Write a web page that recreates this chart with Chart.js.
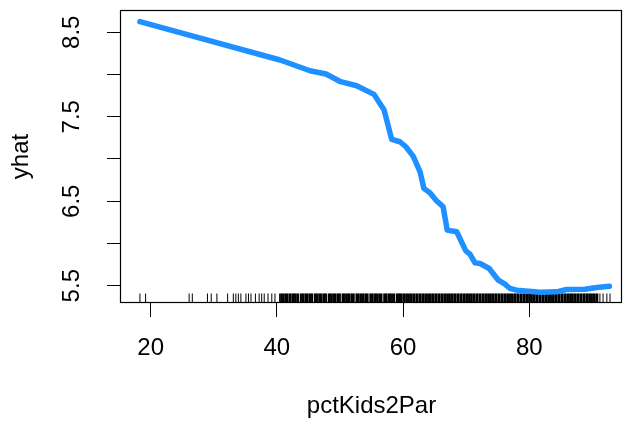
<!DOCTYPE html>
<html>
<head>
<meta charset="utf-8">
<script src="https://cdn.jsdelivr.net/npm/chart.js@4/dist/chart.umd.min.js"></script>
<style>
  html, body { margin: 0; padding: 0; background: #fff; }
  canvas { display: block; }
</style>
</head>
<body>
<canvas id="c" width="624" height="421"></canvas>
<script>
// ---- data ----
const pctKids2Par = [18.3, 40.5, 45.25, 47.8, 50.1, 52.65, 55.4, 57.0, 58.2, 59.5, 60.45, 61.6, 62.7, 63.3, 64.25, 65.3, 66.35, 67.0, 68.5, 69.95, 70.6, 71.4, 72.2, 73.65, 75.1, 76.15, 76.95, 78.0, 81.7, 84.35, 85.9, 88.8, 90.7, 92.7];
const yhat = [8.626, 8.172, 8.045, 8.006, 7.915, 7.867, 7.765, 7.579, 7.232, 7.204, 7.145, 7.034, 6.848, 6.652, 6.600, 6.505, 6.434, 6.158, 6.138, 5.912, 5.873, 5.770, 5.763, 5.704, 5.565, 5.518, 5.467, 5.447, 5.423, 5.427, 5.455, 5.458, 5.478, 5.493];

// rug of observed pctKids2Par values
const rugValues = [
  18.3, 19.2, 26.1, 26.6, 29.0, 29.6, 30.5, 32.2, 33.1, 33.5, 33.9, 34.3, 35.1, 35.5, 35.9, 36.6, 37.2, 37.6, 38.0, 38.6, 39.2, 39.7, 40.5,
  40.8, 41.0, 41.3, 41.5, 41.7, 42.0, 42.2, 42.5, 42.7, 42.9, 43.2, 43.4, 43.8, 44.0, 44.2, 44.5, 44.7, 44.9, 45.2, 45.4, 45.6, 46.0,
  46.2, 46.4, 46.7, 46.9, 47.1, 47.4, 47.6, 47.8, 48.2, 48.4, 48.6, 48.9, 49.1, 49.3, 49.6, 49.8, 50.0, 50.4, 50.6, 50.8, 51.1, 51.3,
  51.5, 51.8, 52.0, 52.2, 52.6, 52.8, 53.0, 53.3, 53.5, 53.7, 54.0, 54.2, 54.4, 54.8, 55.0, 55.2, 55.5, 55.7, 55.9, 56.2, 56.4, 56.6,
  57.0, 57.2, 57.4, 57.7, 57.9, 58.1, 58.4, 58.6, 59.0, 59.2, 59.4, 59.6, 59.8,
  60.1, 60.3, 60.6, 60.8, 61.1, 61.3, 61.6, 61.8, 62.1, 62.3, 62.6, 62.8, 63.1, 63.3, 63.6, 63.8, 64.1, 64.3, 64.6, 64.8,
  65.1, 65.3, 65.6, 65.8, 66.1, 66.3, 66.6, 66.8, 67.1, 67.3, 67.6, 67.8, 68.1, 68.3, 68.6, 68.8, 69.1, 69.3, 69.6, 69.8,
  70.1, 70.3, 70.6, 70.8, 71.1, 71.3, 71.6, 71.8, 72.1, 72.3, 72.6, 72.8, 73.1, 73.3, 73.6, 73.8, 74.1, 74.3, 74.6, 74.8,
  75.1, 75.3, 75.6, 75.8, 76.1, 76.3, 76.6, 76.8, 77.1, 77.3, 77.6, 77.8, 78.1, 78.3, 78.6, 78.8, 79.1, 79.3, 79.6, 79.8,
  80.1, 80.3, 80.6, 80.8, 81.1, 81.3, 81.6, 81.8, 82.1, 82.3, 82.6, 82.8, 83.1, 83.3, 83.6, 83.8, 84.1, 84.3, 84.6, 84.8,
  85.1, 85.3, 85.6, 85.8, 86.1, 86.3, 86.6, 86.8, 87.1, 87.3, 87.6, 87.8, 88.1, 88.3, 88.6, 88.8, 89.1, 89.3, 89.6, 89.8,
  90.1, 90.3, 90.6, 90.8, 91.2, 91.7, 92.3, 92.8
];

const xTicks = [20, 40, 60, 80];
const yTicks = [5.5, 6.0, 6.5, 7.0, 7.5, 8.0, 8.5];
const yTickLabels = ['5.5', '', '6.5', '', '7.5', '', '8.5'];
const xTitle = 'pctKids2Par';
const yTitle = 'yhat';

// ---- drawing ----
const FONT = '"Liberation Sans", Arial, Helvetica, sans-serif';

const boxRug = {
  id: 'boxRug',
  beforeDatasetsDraw(chart) {
    const { ctx, chartArea: a, scales: { x } } = chart;
    ctx.save();
    ctx.strokeStyle = '#000';
    // sparse marks thin, dense marks slightly wider so they merge as in the reference
    rugValues.forEach((v, i) => {
      const prev = i > 0 ? rugValues[i - 1] : -Infinity;
      const next = i < rugValues.length - 1 ? rugValues[i + 1] : Infinity;
      const dense = Math.min(v - prev, next - v) <= 0.35;
      const px = x.getPixelForValue(v);
      ctx.lineWidth = dense ? 1.8 : 1;
      ctx.beginPath();
      ctx.moveTo(px, a.bottom);
      ctx.lineTo(px, a.bottom - 8.5);
      ctx.stroke();
    });
    ctx.lineWidth = 1.2;
    ctx.strokeRect(a.left - 0.5, a.top - 0.5, a.right - a.left, a.bottom - a.top + 1);
    ctx.restore();
  }
};

const zeroPad = s => { s.paddingTop = 0; s.paddingBottom = 0; s.paddingLeft = 0; s.paddingRight = 0; };

new Chart(document.getElementById('c'), {
  type: 'line',
  data: {
    datasets: [{
      data: pctKids2Par.map((v, i) => ({ x: v, y: yhat[i] })),
      borderColor: '#1E90FF',
      borderWidth: 5.5,
      pointRadius: 0,
      tension: 0,
      borderCapStyle: 'round',
      borderJoinStyle: 'round',
      fill: false
    }]
  },
  options: {
    responsive: false,
    animation: false,
    devicePixelRatio: 1,
    layout: { padding: { top: 11, right: 2, left: 0, bottom: 0 } },
    plugins: { legend: { display: false }, tooltip: { enabled: false } },
    scales: {
      x: {
        type: 'linear',
        min: 15.3,
        max: 94.7,
        afterBuildTicks: s => { s.ticks = xTicks.map(v => ({ value: v })); },
        afterFit: s => { s.height = 119; zeroPad(s); },
        border: { display: false },
        grid: { drawOnChartArea: false, drawTicks: true, tickLength: 15, color: '#000', lineWidth: 1 },
        ticks: { color: '#000', font: { family: FONT, size: 24 }, padding: 17, maxRotation: 0, autoSkip: false,
                 callback: v => String(v) },
        title: { display: true, text: xTitle, color: '#000', font: { family: FONT, size: 24 }, padding: { top: 0, bottom: 0 } }
      },
      y: {
        type: 'linear',
        min: 5.307,
        max: 8.752,
        afterBuildTicks: s => { s.ticks = yTicks.map(v => ({ value: v })); },
        afterFit: s => { s.width = 121; zeroPad(s); },
        border: { display: false },
        grid: { drawOnChartArea: false, drawTicks: true, tickLength: 14, color: '#000', lineWidth: 1 },
        ticks: { color: '#000', font: { family: FONT, size: 24 }, padding: 18, minRotation: 90, maxRotation: 90,
                 crossAlign: 'center', autoSkip: false,
                 callback: (v, i) => yTickLabels[i] },
        title: { display: true, text: yTitle, color: '#000', font: { family: FONT, size: 24 }, padding: { top: 6.5, bottom: 0 } }
      }
    }
  },
  plugins: [boxRug]
});
</script>
</body>
</html>
